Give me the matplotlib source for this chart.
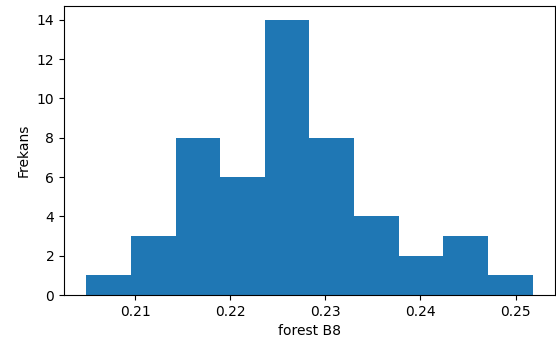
import numpy as np
import matplotlib
matplotlib.use("Agg")
import matplotlib.pyplot as plt

# Histogram bin range and counts
bin_start = 0.20486
bin_end = 0.25180
counts = [1, 3, 8, 6, 14, 8, 4, 2, 3, 1]
xticks = [0.21, 0.22, 0.23, 0.24, 0.25]
xtick_labels = ["0.21", "0.22", "0.23", "0.24", "0.25"]
yticks = [0, 2, 4, 6, 8, 10, 12, 14]

edges = np.linspace(bin_start, bin_end, len(counts) + 1)
centers = (edges[:-1] + edges[1:]) / 2

fig = plt.figure(figsize=(5.56, 3.45), dpi=100)
ax = fig.add_axes([0.1151, 0.1449, 0.883, 0.838])
ax.hist(centers, bins=edges, weights=counts, color="#1f77b4")
ax.set_xticks(xticks)
ax.set_xticklabels(xtick_labels)
ax.set_yticks(yticks)
ax.set_xlabel("forest B8")
ax.set_ylabel("Frekans")
fig.savefig("out.png", dpi=100)
